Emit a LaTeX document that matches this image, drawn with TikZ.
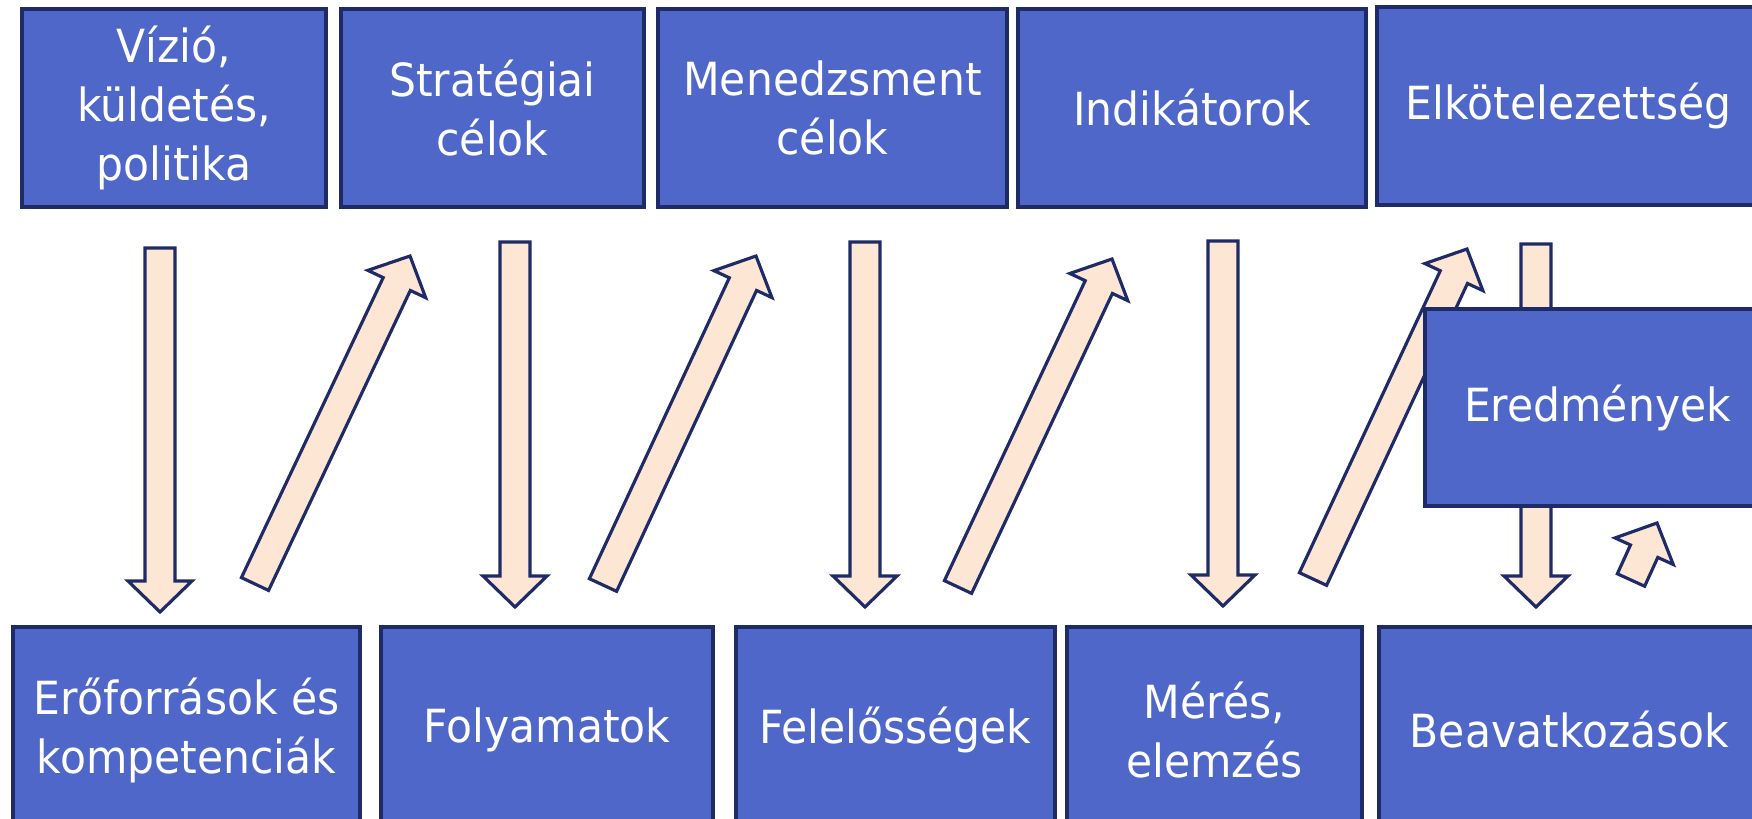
\documentclass[tikz,border=0pt]{standalone}
\usepackage{fontspec}
\setmainfont[FakeStretch=0.93]{DejaVu Sans}
\usetikzlibrary{calc}
\definecolor{boxblue}{HTML}{4F67C8}
\definecolor{navy}{HTML}{1F2B66}
\definecolor{peach}{HTML}{FDE6D3}
\tikzset{
  goal/.style={draw=navy, line width=0.9pt, fill=boxblue, text=white, align=center,
    inner sep=0pt, minimum height=19.8mm, font=\fontsize{13}{16.8}\selectfont},
  blockarr/.style={draw=navy, line width=0.9pt, fill=peach, line join=miter},
}
% block arrow from tail #1 to tip #2
\newcommand{\blockarrow}[2]{%
  \coordinate (hb) at ($(#2)!3.1mm!(#1)$);
  \draw[blockarr] ($(#1)!1.5mm!90:(#2)$) -- ($(hb)!1.5mm!90:(#2)$)
    -- ($(hb)!3.2mm!90:(#2)$) -- (#2) -- ($(hb)!3.2mm!-90:(#2)$)
    -- ($(hb)!1.5mm!-90:(#2)$) -- ($(#1)!1.5mm!-90:(#2)$) -- cycle;
}
\begin{document}
\begin{tikzpicture}[x=0.1mm, y=-0.1mm]
    \useasboundingbox (0,0) rectangle (1752,818);
    \clip (0,0) rectangle (1752,818);
    % upper row
    \node[goal, minimum width=30.4mm] (vizio) at (174,108) {Vízió,\\küldetés,\\politika};
    \node[goal, minimum width=30.3mm] (strat) at (492.5,108) {Stratégiai\\célok};
    \node[goal, minimum width=34.9mm] (mened) at (832.5,108) {Menedzsment\\célok};
    \node[goal, minimum width=34.8mm] (indik) at (1192,108) {Indikátorok};
    \node[goal, minimum width=38.3mm] (elkot) at (1568.5,106) {Elkötelezettség};
    % lower row
    \node[goal, minimum width=34.7mm, minimum height=20.6mm] (erof) at (186.5,730) {Erőforrások és\\kompetenciák};
    \node[goal, minimum width=33.2mm, minimum height=20.6mm] (folya) at (547,730) {Folyamatok};
    \node[goal, minimum width=31.9mm, minimum height=20.6mm] (felel) at (895.5,730) {Felelősségek};
    \node[goal, minimum width=29.5mm, minimum height=20.6mm] (meres) at (1214.5,730) {Mérés,\\elemzés};
    \node[goal, minimum width=38.1mm, minimum height=20.6mm] (beava) at (1569.5,730) {Beavatkozások};
    % arrow ends
    \foreach \i/\x/\ya/\yb in {1/160/248/612, 2/515/242/607, 3/865/242/607, 4/1223/241/606, 5/1536/244/607} {
      \coordinate (dn\i s) at (\x,\ya);
      \coordinate (dn\i e) at (\x,\yb);
    }
    \coordinate (up1s) at (255,584);  \coordinate (up1e) at (410,256);
    \coordinate (up2s) at (603,585);  \coordinate (up2e) at (756,256);
    \coordinate (up3s) at (958,587);  \coordinate (up3e) at (1112,259);
    \coordinate (up4s) at (1313,579); \coordinate (up4e) at (1467,249);
    \coordinate (up5s) at (1631,580); \coordinate (up5e) at (1657,523);
    \foreach \i in {1,...,5} {
      \blockarrow{dn\i s}{dn\i e}
      \blockarrow{up\i s}{up\i e}
    }
    \node[goal, minimum width=34.5mm, minimum height=19.7mm] (eredm) at (1597.5,407.5) {Eredmények};
\end{tikzpicture}
\end{document}
